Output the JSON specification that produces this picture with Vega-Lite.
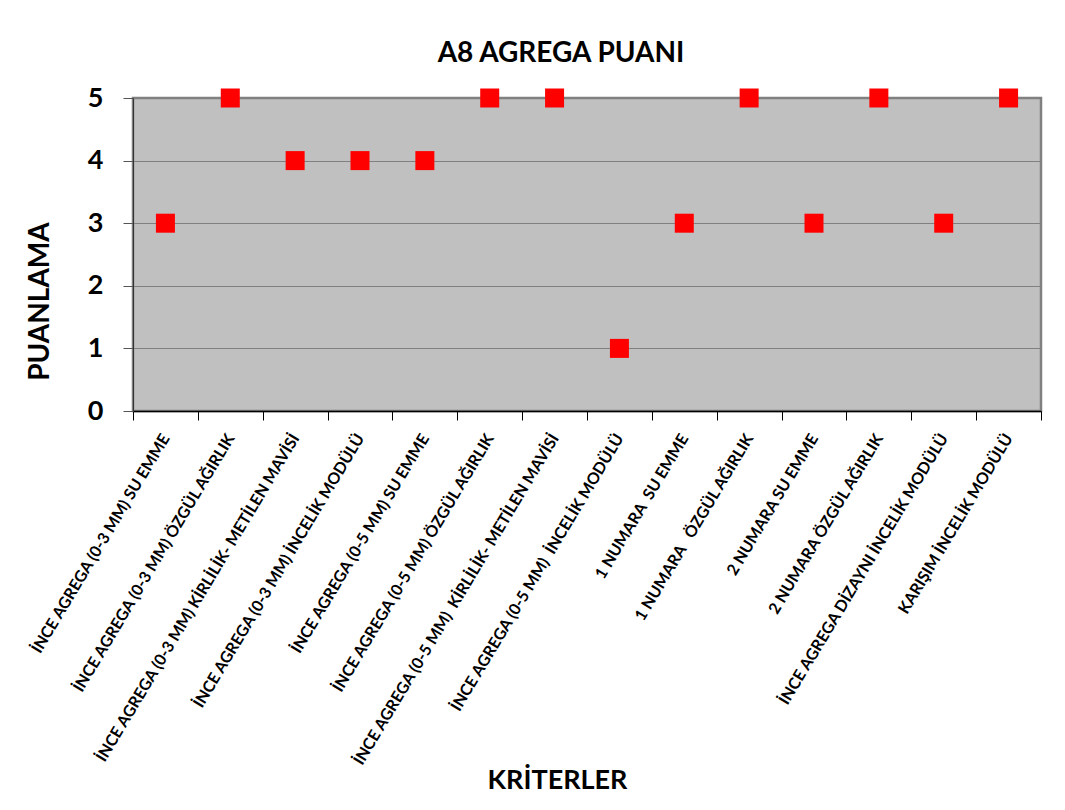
{
  "$schema": "https://vega.github.io/schema/vega-lite/v6.json",
  "width": 908,
  "height": 313,
  "autosize": {"type": "none"},
  "padding": {"left": 133, "top": 98, "right": 24, "bottom": 399},
  "background": "white",
  "title": {
    "text": "A8 AGREGA PUANI",
    "font": "Lato",
    "fontSize": 28,
    "fontWeight": "bold",
    "color": "black",
    "anchor": "middle",
    "dx": -26,
    "offset": 16
  },
  "data": {
    "values": [
      {"k": "İNCE AGREGA (0-3 MM) SU EMME", "v": 3},
      {"k": "İNCE AGREGA (0-3 MM) ÖZGÜL AĞIRLIK", "v": 5},
      {"k": "İNCE AGREGA (0-3 MM) KİRLİLİK- METİLEN MAVİSİ", "v": 4},
      {"k": "İNCE AGREGA (0-3 MM) İNCELİK MODÜLÜ", "v": 4},
      {"k": "İNCE AGREGA (0-5 MM) SU EMME", "v": 4},
      {"k": "İNCE AGREGA (0-5 MM) ÖZGÜL AĞIRLIK", "v": 5},
      {"k": "İNCE AGREGA (0-5 MM) \u00a0KİRLİLİK- METİLEN MAVİSİ", "v": 5},
      {"k": "İNCE AGREGA (0-5 MM) \u00a0İNCELİK MODÜLÜ", "v": 1},
      {"k": "1 NUMARA \u00a0SU EMME", "v": 3},
      {"k": "1 NUMARA \u00a0\u00a0ÖZGÜL AĞIRLIK", "v": 5},
      {"k": "2 NUMARA SU EMME", "v": 3},
      {"k": "2 NUMARA ÖZGÜL AĞIRLIK", "v": 5},
      {"k": "İNCE AGREGA DİZAYNI İNCELİK MODÜLÜ", "v": 3},
      {"k": "KARIŞIM İNCELİK MODÜLÜ", "v": 5}
    ]
  },
  "mark": {"type": "point", "shape": "square", "filled": true, "size": 361, "color": "#FF0000", "opacity": 1},
  "encoding": {
    "x": {
      "field": "k",
      "type": "nominal",
      "sort": null,
      "scale": {"paddingInner": 0, "paddingOuter": 0},
      "axis": {
        "title": "KRİTERLER",
        "titleFont": "Lato",
        "titleFontSize": 27,
        "titleFontWeight": "bold",
        "titleColor": "black",
        "titleX": 424,
        "titleY": 377,
        "titleAlign": "center",
        "titleBaseline": "alphabetic",
        "labelAngle": -59,
        "labelAlign": "right",
        "labelBaseline": "middle",
        "labelFont": "Lato",
        "labelFontSize": 16,
        "labelFontWeight": "bold",
        "labelColor": "black",
        "labelPadding": 15,
        "labelLimit": 0,
        "tickBand": "extent",
        "tickSize": 9,
        "tickColor": "black",
        "domainColor": "black",
        "domainWidth": 1.5,
        "grid": false
      }
    },
    "y": {
      "field": "v",
      "type": "quantitative",
      "scale": {"domain": [0, 5], "nice": false},
      "axis": {
        "title": "PUANLAMA",
        "titleFont": "Lato",
        "titleFontSize": 28,
        "titleFontWeight": "bold",
        "titleColor": "black",
        "titleX": -93,
        "titleY": 203,
        "titleAlign": "center",
        "titleBaseline": "middle",
        "titleAngle": -90,
        "values": [0, 1, 2, 3, 4, 5],
        "format": "d",
        "labelFont": "Lato",
        "labelFontSize": 27,
        "labelFontWeight": "bold",
        "labelColor": "black",
        "labelPadding": 20,
        "tickSize": 10,
        "tickColor": "#555555",
        "domainColor": "#333333",
        "grid": true,
        "gridColor": "#808080",
        "gridWidth": 1.2
      }
    }
  },
  "config": {
    "view": {"fill": "#C0C0C0", "stroke": "#808080", "strokeWidth": 2.5}
  }
}
